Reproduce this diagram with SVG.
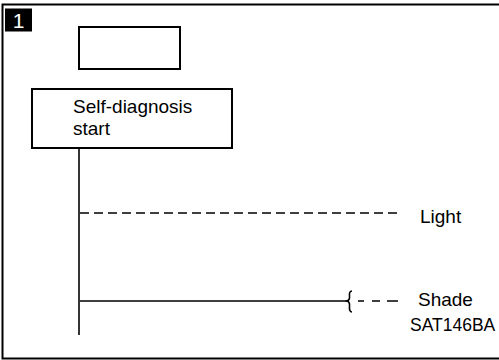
<svg xmlns="http://www.w3.org/2000/svg" width="499" height="360" viewBox="0 0 499 360">
<style>
.t{font-family:"Liberation Sans",Arial,sans-serif;fill:#000}
.lbl{font-size:19px}
.box{fill:#fff;stroke:#000;stroke-width:2}
.ln{stroke:#000;stroke-width:1.6;fill:none}
</style>
<rect width="499" height="360" fill="#fff"/>
<g id="frame">
<polyline points="499,4.5 2.5,4.5 2.5,358.5 499,358.5" fill="none" stroke="#000" stroke-width="2"/>
<rect x="5" y="8.5" width="27" height="23" fill="#000"/>
<text class="t" x="18.5" y="28" font-size="21" text-anchor="middle" style="fill:#fff">1</text>
</g>
<g id="connectors">
<line class="ln" x1="79" y1="148" x2="79" y2="335" stroke-width="2"/>
<line class="ln" x1="80" y1="213" x2="400" y2="213" stroke-dasharray="9 5"/>
<line class="ln" x1="80" y1="301" x2="349" y2="301"/>
<path class="ln" d="M352,291 Q349,291 349.5,296 Q350,300 347,301 Q350,302 349.5,306 Q349,312 352,312" stroke-width="1.2"/>
<line class="ln" x1="358" y1="301" x2="398" y2="301" stroke-dasharray="6 8 8 7 11 100"/>
</g>
<g id="empty-box">
<rect class="box" x="79" y="27" width="101" height="42"/>
</g>
<g id="self-diagnosis">
<rect class="box" x="32" y="89" width="200" height="59"/>
<text class="t lbl" x="73" y="113">Self-diagnosis</text>
<text class="t lbl" x="73" y="135">start</text>
</g>
<g id="light"><text class="t lbl" x="420" y="223">Light</text></g>
<g id="shade"><text class="t lbl" x="418" y="306">Shade</text></g>
<text class="t" x="410" y="331" font-size="17.5">SAT146BA</text>
</svg>
